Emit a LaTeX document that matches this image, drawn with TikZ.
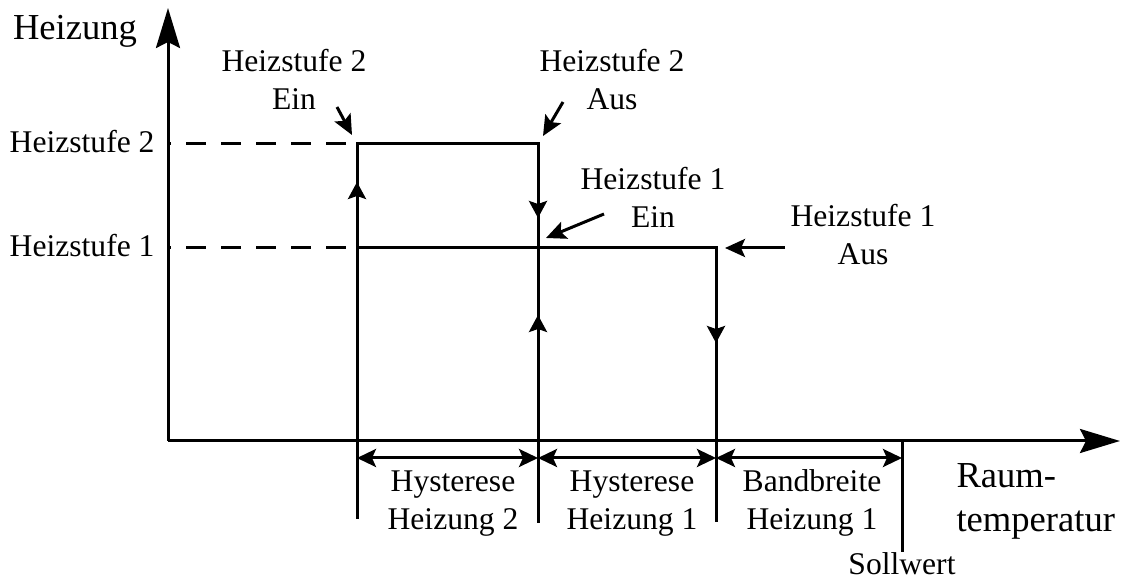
\documentclass[tikz,border=0pt]{standalone}
\usepackage{fontspec}
\setmainfont{Liberation Serif}
\usetikzlibrary{arrows.meta}
\begin{document}
\begin{tikzpicture}[x=0.5pt,y=-0.5pt,line width=1.5pt,
  lbl/.style={inner sep=0pt,font=\fontsize{15.8}{19}\selectfont,align=center},
  big/.style={inner sep=0pt,font=\fontsize{18.3}{22}\selectfont,align=left},
  axis/.style={-{Stealth[length=20pt,width=12pt,inset=3pt]}},
  flow/.style={-{Stealth[length=8.5pt,width=9pt,inset=1.5pt]}},
  note/.style={-{Stealth[length=10pt,width=9pt,inset=2pt]}},
  dim/.style={{Stealth[length=9.5pt,width=9pt,inset=2pt]}-{Stealth[length=9.5pt,width=9pt,inset=2pt]}},
  levelline/.style={dash pattern=on 10pt off 7.5pt,dash phase=8.5pt}]
\useasboundingbox (0,0) rectangle (1121,582);
% axes
\coordinate (O) at (168,441);
\coordinate (ytip) at (168,8);
\coordinate (xtip) at (1120,441);
\draw[axis] (O) -- (ytip);
\draw[axis] (O) -- (xtip);
% key points
\coordinate (a2) at (357,144);
\coordinate (b2) at (538,144);
\coordinate (a1) at (357,248);
\coordinate (c1) at (716,248);
\coordinate (y2) at (168,144);
\coordinate (y1) at (168,248);
% level lines
\draw[levelline] (y2) -- (a2);
\draw[levelline] (y1) -- (a1);
% hysteresis loops
\draw (357,519) -- (a2) -- (b2) -- (538,523);
\draw (a1) -- (c1) -- (716,522);
\draw (902,441) -- (902,552);
% direction arrows
\draw[flow] (357,205) -- (357,182);
\draw[flow] (538,195) -- (538,218);
\draw[flow] (538,338) -- (538,315);
\draw[flow] (716,320) -- (716,343);
% annotation arrows
\draw[note] (337,107) -- (352,135);
\draw[note] (563,102) -- (543,136);
\draw[note] (604,214) -- (546,238);
\draw[note] (785,248) -- (725,248);
% dimension arrows
\draw[dim] (357,458) -- (538,458);
\draw[dim] (538,458) -- (716,458);
\draw[dim] (716,458) -- (902,458);
% labels
\node[big,anchor=base] (ylab) at (75,40) {Heizung};
\node[lbl,anchor=base east] (l2) at (156,153) {Heizstufe 2};
\node[lbl,anchor=base east] (l1) at (156,257) {Heizstufe 1};
\node[lbl,anchor=base] (t2ein) at (294,110) {Heizstufe 2\\Ein};
\node[lbl,anchor=base] (t2aus) at (612,110) {Heizstufe 2\\Aus};
\node[lbl,anchor=base] (t1ein) at (653,228) {Heizstufe 1\\Ein};
\node[lbl,anchor=base] (t1aus) at (863,265) {Heizstufe 1\\Aus};
\node[lbl,anchor=base] (h2) at (453,530) {Hysterese\\Heizung 2};
\node[lbl,anchor=base] (h1) at (632,530) {Hysterese\\Heizung 1};
\node[lbl,anchor=base] (bb) at (812,530) {Bandbreite\\Heizung 1};
\node[big,anchor=base west] (xlab) at (955,532) {Raum-\\temperatur};
\node[lbl,anchor=base] (soll) at (902,575) {Sollwert};
\end{tikzpicture}
\end{document}
